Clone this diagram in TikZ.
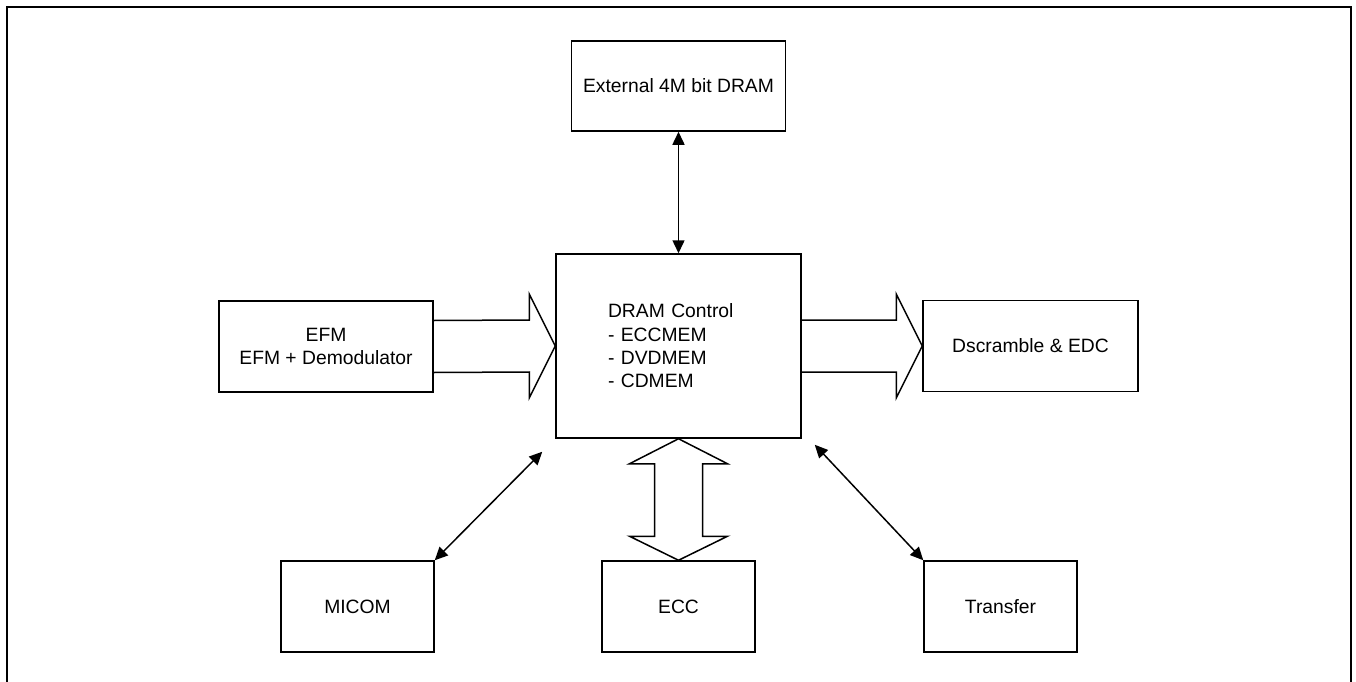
\documentclass[tikz,border=0pt]{standalone}
\usepackage{fontspec}
\setmainfont{Liberation Sans}
\usetikzlibrary{arrows.meta,calc}

\begin{document}
\begin{tikzpicture}[x=1pt,y=-1pt,
  font=\fontsize{19.3}{23.3}\selectfont,
  block/.style={draw,line width=1.5pt,minimum height=91pt,align=center,inner sep=0pt},
  link/.style={line width=1.5pt,{Triangle[length=13pt,width=12pt]}-{Triangle[length=13pt,width=12pt]}},
  fat/.style={line width=1.5pt,line join=miter}]
\useasboundingbox (0,0) rectangle (1356,682);
\draw[line width=2.3pt] (7,682) -- (7,7) -- (1351,7) -- (1351,682);

% blocks
\node[block,minimum width=214pt,minimum height=90pt] (ext) at (678.5,86) {External 4M bit DRAM};
\node[draw,line width=1.5pt,minimum height=184pt,text width=141pt,inner xsep=52pt,inner ysep=0pt,align=left] (ctrl) at (678.5,346) {DRAM Control\\- ECCMEM\\- DVDMEM\\- CDMEM};
\node[block,minimum width=214pt] (efm) at (326,346.5) {EFM\\EFM + Demodulator};
\node[block,minimum width=215pt] (dsc) at (1030.5,346) {Dscramble \& EDC};
\node[block,minimum width=153pt] (micom) at (357.5,606.5) {MICOM};
\node[block,minimum width=153pt] (ecc) at (678.5,606.5) {ECC};
\node[block,minimum width=153pt] (trans) at (1000.5,606.5) {Transfer};

% thin links
\draw[link] (ctrl.north |- ext.south) -- (ctrl.north);
\draw[link] (micom.north east) -- ($(ctrl.south west)+(-13,13)$);
\draw[link] ($(ctrl.south east)+(13,6)$) -- (trans.north west);

% wide arrows
\draw[fat] ($(efm.east)+(0,-26)$) -- ($(ctrl.west)+(-26,-26)$) -- ($(ctrl.west)+(-26,-52)$) -- (ctrl.west)
  -- ($(ctrl.west)+(-26,52)$) -- ($(ctrl.west)+(-26,26)$) -- ($(efm.east)+(0,26)$);
\draw[fat] ($(ctrl.east)+(0,-26)$) -- ($(dsc.west)+(-26,-26)$) -- ($(dsc.west)+(-26,-52)$) -- (dsc.west)
  -- ($(dsc.west)+(-26,52)$) -- ($(dsc.west)+(-26,26)$) -- ($(ctrl.east)+(0,26)$);
\draw[fat] (ctrl.south) -- ($(ctrl.south)+(49,25)$) -- ($(ctrl.south)+(24,25)$) -- ($(ecc.north)+(24,-24)$)
  -- ($(ecc.north)+(49,-24)$) -- (ecc.north) -- ($(ecc.north)+(-49,-24)$) -- ($(ecc.north)+(-24,-24)$)
  -- ($(ctrl.south)+(-24,25)$) -- ($(ctrl.south)+(-49,25)$) -- cycle;
\end{tikzpicture}
\end{document}
